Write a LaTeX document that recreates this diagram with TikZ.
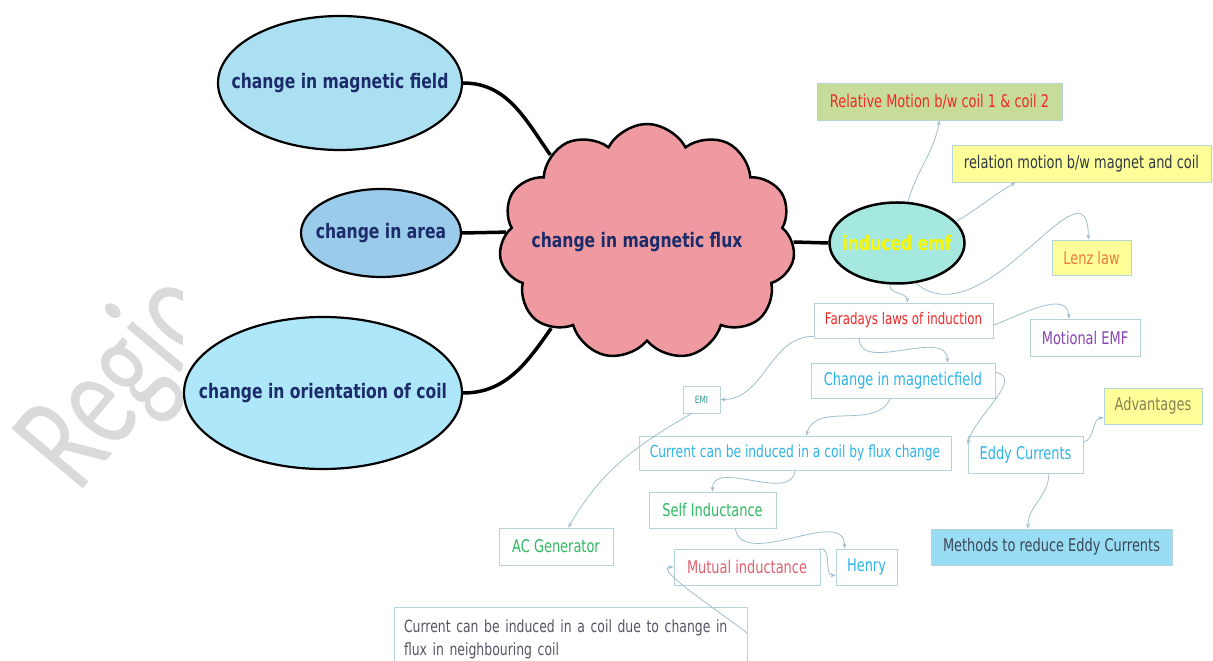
\documentclass[tikz,border=0pt]{standalone}
\usepackage{fontspec}
\setmainfont{DejaVu Sans}
\newfontfamily\bx[FakeStretch=0.74]{DejaVu Sans}
\newfontfamily\bb[FakeStretch=0.78]{DejaVu Sans}
\newfontfamily\wmfont[FakeStretch=0.7]{Carlito}
\usetikzlibrary{shapes.geometric,shapes.symbols,arrows.meta}
\definecolor{navy}{HTML}{1C2C6A}
\definecolor{ebl}{HTML}{ABDFF2}
\definecolor{ebm}{HTML}{9ACBEA}
\definecolor{ebs}{HTML}{AEE6FA}
\definecolor{cloudpink}{HTML}{EE9AA0}
\definecolor{emfcyan}{HTML}{A5E8E0}
\definecolor{emfyel}{HTML}{F8F800}
\definecolor{boxline}{HTML}{B7D3DA}
\definecolor{connc}{HTML}{9FBFCC}
\definecolor{lgreen}{HTML}{C8DC9A}
\definecolor{lyel}{HTML}{FFFF99}
\definecolor{cred}{HTML}{F02828}
\definecolor{corange}{HTML}{F07A3A}
\definecolor{cpurple}{HTML}{8A44B4}
\definecolor{cteal}{HTML}{2A9A8A}
\definecolor{cblue}{HTML}{2DB4E8}
\definecolor{colive}{HTML}{8A8050}
\definecolor{cgreen}{HTML}{2DBA60}
\definecolor{crose}{HTML}{E06070}
\definecolor{cdark}{HTML}{3A4656}
\definecolor{cgrey}{HTML}{555566}
\definecolor{methblue}{HTML}{99DDF5}
\definecolor{wmgray}{HTML}{DADADA}
\tikzset{
  bigell/.style={ellipse, draw=black, line width=2.2pt, inner sep=0pt},
  elltext/.style={font=\bb\bfseries\fontsize{20}{24}\selectfont, text=navy, inner sep=0pt},
  mbox/.style={draw=boxline, line width=0.8pt, inner sep=0pt, font=\bx\fontsize{17.5}{21}\selectfont},
  thickconn/.style={draw=black, line width=3.5pt},
  conn/.style={draw=connc, line width=0.8pt, -{Stealth[length=5pt,width=4pt]}},
}
\begin{document}
\begin{tikzpicture}[x=1pt,y=1pt]
\useasboundingbox (0,0) rectangle (1213,661);
% watermark
\begin{scope}
\clip (0,0) rectangle (182,661);
\node[font=\wmfont\fontsize{145}{145}\selectfont, text=wmgray, rotate=50, anchor=base west, inner sep=0pt] (wm) at (78,166) {Regio};
\end{scope}
% left ellipses
\node[bigell, fill=ebl, minimum width=244pt, minimum height=134pt] (e1) at (340,578) {};
\node[elltext] (t1) at (e1) {change in magnetic field};
\node[bigell, fill=ebm, minimum width=160pt, minimum height=88pt] (e2) at (381,428) {};
\node[elltext] (t2) at (e2) {change in area};
\node[bigell, fill=ebs, minimum width=278pt, minimum height=152pt] (e3) at (323,268) {};
\node[elltext] (t3) at (e3) {change in orientation of coil};
% cloud
\node[cloud, cloud puffs=11, cloud puff arc=125, cloud ignores aspect, draw=black, line width=2.5pt, fill=cloudpink, minimum width=296pt, minimum height=236pt, inner sep=0pt] (flux) at (647,419) {};
\node[elltext] (tf) at (637,419) {change in magnetic flux};
% emf
\node[bigell, line width=2.5pt, fill=emfcyan, minimum width=135pt, minimum height=81pt] (emf) at (897,418) {};
\node[elltext, text=emfyel] (te) at (emf) {induced emf};
% thick connectors
\draw[thickconn] (e1.east) to[out=0, in=125] (flux.138);
\draw[thickconn] (e2.east) -- (flux.176);
\draw[thickconn] (e3.east) to[out=0, in=235] (flux.222);
\draw[thickconn] (flux.east) -- (emf.west);
% boxes
\node[mbox, fill=lgreen, text=cred, minimum width=245pt, minimum height=37pt] (rel) at (939.5,559.5) {Relative Motion b/w coil 1 \& coil 2};
\node[mbox, fill=lyel, text=cdark!80!black, minimum width=259pt, minimum height=37pt] (relm) at (1081.5,497.5) {relation motion b/w magnet and coil};
\node[mbox, fill=lyel, text=corange, minimum width=79pt, minimum height=35pt] (lenz) at (1091.5,403.5) {Lenz law};
\node[mbox, fill=white, text=cred, minimum width=179pt, minimum height=35pt, font=\bx\fontsize{16}{20}\selectfont] (far) at (903.5,340.5) {Faradays laws of induction};
\node[mbox, fill=white, text=cpurple, minimum width=110pt, minimum height=37pt] (mot) at (1085,323.5) {Motional EMF};
\node[mbox, fill=white, text=cteal, minimum width=37pt, minimum height=27pt, font=\bx\fontsize{10}{12}\selectfont] (emi) at (701.5,261.5) {EMI};
\node[mbox, fill=white, text=cblue, minimum width=184pt, minimum height=35pt] (chg) at (903,280.5) {Change in magneticfield};
\node[mbox, fill=lyel, text=colive, minimum width=98pt, minimum height=36pt] (adv) at (1153,255) {Advantages};
\node[mbox, fill=white, text=cblue, minimum width=312pt, minimum height=34pt, font=\bx\fontsize{16.6}{20}\selectfont] (cur) at (795,208) {Current can be induced in a coil by flux change};
\node[mbox, fill=white, text=cblue, minimum width=115pt, minimum height=37pt] (eddy) at (1025.5,206.5) {Eddy Currents};
\node[mbox, fill=white, text=cgreen, minimum width=127pt, minimum height=36pt] (self) at (712.5,151) {Self Inductance};
\node[mbox, fill=white, text=cgreen, minimum width=114pt, minimum height=37pt] (acg) at (556,114.5) {AC Generator};
\node[mbox, fill=methblue, text=cdark, minimum width=241pt, minimum height=36pt] (meth) at (1051.5,114) {Methods to reduce Eddy Currents};
\node[mbox, fill=white, text=crose, minimum width=146pt, minimum height=36pt] (mut) at (747,94) {Mutual inductance};
\node[mbox, fill=white, text=cblue, minimum width=61pt, minimum height=36pt] (hen) at (866.5,94) {Henry};
\node[mbox, fill=white, text=cgrey, minimum width=353pt, minimum height=65pt, text width=333pt, align=left, font=\bx\fontsize{16.8}{23}\selectfont] (long) at (570.5,21.5) {Current can be induced in a coil due to change in\\flux in neighbouring coil};
% thin connectors
\draw[conn] (emf.75) to[out=75, in=-100] (rel.south);
\draw[conn] (emf.20) to[out=30, in=210] (relm.196);
\draw[conn] (emf.-65) to[out=-40, in=90, looseness=1.3] (lenz.100);
\draw[conn] (emf.-100) to[out=-95, in=90] (far.78);
\draw[conn] (far.-3) to[out=20, in=95] (mot.130);
\draw[conn] (far.190) to[out=180, in=0] (emi.east);
\draw[conn] (far.202) to[out=-90, in=90] (chg.22);
\draw[conn] (chg.235) to[out=-115, in=75] (cur.57);
\draw[conn] (chg.5) to[out=-10, in=75] (eddy.170);
\draw[conn] (eddy.12) to[out=15, in=190] (adv.193);
\draw[conn] (eddy.-39) to[out=-90, in=90] (meth.142);
\draw[conn] (emi.-125) to[out=-150, in=60] (acg.57);
\draw[conn] (cur.south) to[out=-95, in=90] (self.north);
\draw[conn] (self.-39) to[out=-80, in=90] (hen.140);
\draw[conn] (mut.north east) to[out=0, in=180] (hen.-165);
\draw[conn] (long.2) to[out=140, in=180, looseness=0.6] (mut.west);
\end{tikzpicture}
\end{document}
